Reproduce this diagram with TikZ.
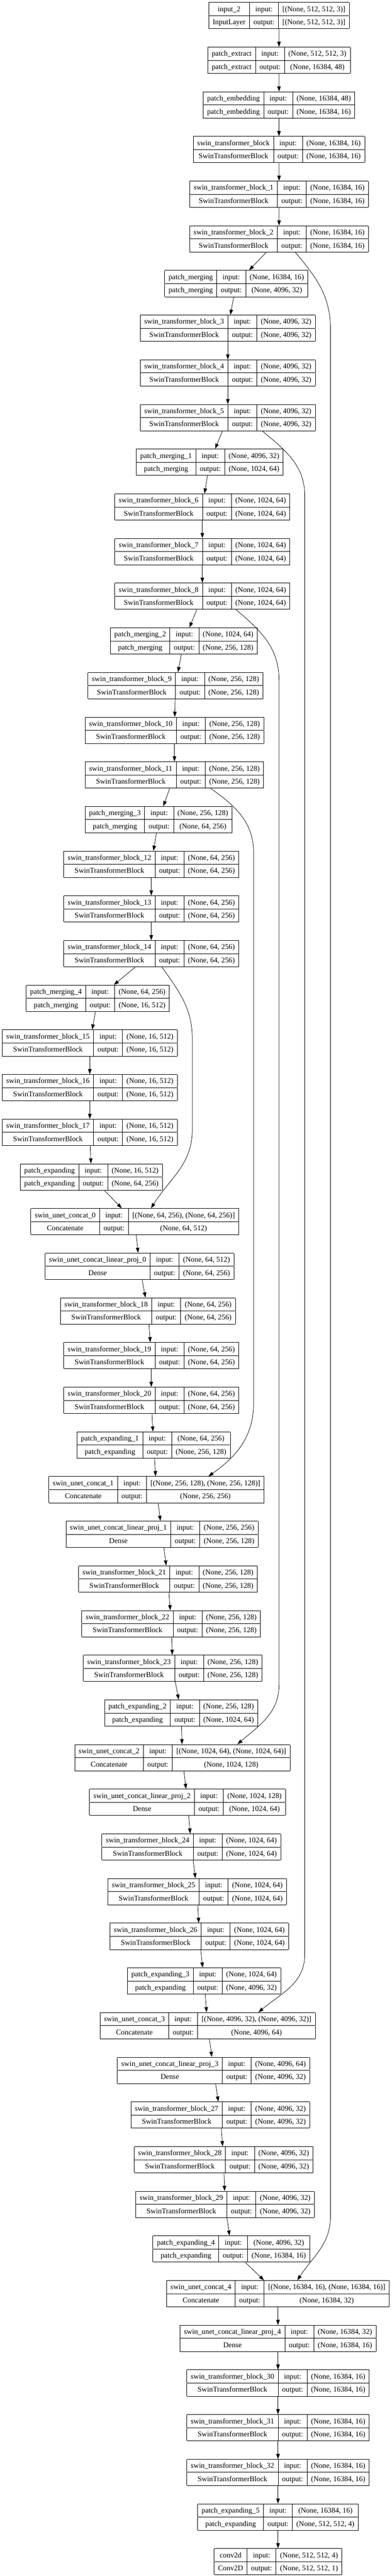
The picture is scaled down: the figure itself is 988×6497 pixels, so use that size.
\documentclass[tikz,border=0pt]{standalone}
\usepackage{fontspec}
\setmainfont{Liberation Serif}
\usetikzlibrary{arrows.meta}

\setlength{\tabcolsep}{10pt}
\setlength{\arrayrulewidth}{1.2pt}
\newcommand{\rowstrut}{\rule[-10pt]{0pt}{32pt}}
\newcommand{\lyr}[4]{%
  \begin{tabular}{|c|c|c|}\hline
  \rowstrut #1 & input: & #3\\\hline
  \rowstrut #2 & output: & #4\\\hline
  \end{tabular}}

\tikzset{
  layer/.style={anchor=north, inner sep=0pt, outer sep=0pt,
    font=\fontsize{18.67pt}{22pt}\selectfont},
  link/.style={-{Triangle[length=13pt,width=9pt]}, line width=1pt},
}

\begin{document}
\begin{tikzpicture}[x=1pt,y=1pt]
        \useasboundingbox (0,0) rectangle (988,-6497);

        % encoder
        \node[layer] (in2) at (703.8,-5.5) {\lyr{input\_2}{InputLayer}{[(None, 512, 512, 3)]}{[(None, 512, 512, 3)]}};
        \node[layer] (pextract) at (703.9,-118.2) {\lyr{patch\_extract}{patch\_extract}{(None, 512, 512, 3)}{(None, 16384, 48)}};
        \node[layer] (pembed) at (703.8,-230.8) {\lyr{patch\_embedding}{patch\_embedding}{(None, 16384, 48)}{(None, 16384, 16)}};
        \node[layer] (swin0) at (703.8,-343.5) {\lyr{swin\_transformer\_block}{SwinTransformerBlock}{(None, 16384, 16)}{(None, 16384, 16)}};
        \node[layer] (swin1) at (704.1,-456.1) {\lyr{swin\_transformer\_block\_1}{SwinTransformerBlock}{(None, 16384, 16)}{(None, 16384, 16)}};
        \node[layer] (swin2) at (704.0,-568.8) {\lyr{swin\_transformer\_block\_2}{SwinTransformerBlock}{(None, 16384, 16)}{(None, 16384, 16)}};

        \node[layer] (pmerge0) at (596.0,-681.5) {\lyr{patch\_merging}{patch\_merging}{(None, 16384, 16)}{(None, 4096, 32)}};
        \node[layer] (swin3) at (574.7,-794.1) {\lyr{swin\_transformer\_block\_3}{SwinTransformerBlock}{(None, 4096, 32)}{(None, 4096, 32)}};
        \node[layer] (swin4) at (574.7,-906.8) {\lyr{swin\_transformer\_block\_4}{SwinTransformerBlock}{(None, 4096, 32)}{(None, 4096, 32)}};
        \node[layer] (swin5) at (574.7,-1019.4) {\lyr{swin\_transformer\_block\_5}{SwinTransformerBlock}{(None, 4096, 32)}{(None, 4096, 32)}};

        \node[layer] (pmerge1) at (529.0,-1132.1) {\lyr{patch\_merging\_1}{patch\_merging}{(None, 4096, 32)}{(None, 1024, 64)}};
        \node[layer] (swin6) at (510.4,-1244.8) {\lyr{swin\_transformer\_block\_6}{SwinTransformerBlock}{(None, 1024, 64)}{(None, 1024, 64)}};
        \node[layer] (swin7) at (510.4,-1357.4) {\lyr{swin\_transformer\_block\_7}{SwinTransformerBlock}{(None, 1024, 64)}{(None, 1024, 64)}};
        \node[layer] (swin8) at (510.4,-1470.1) {\lyr{swin\_transformer\_block\_8}{SwinTransformerBlock}{(None, 1024, 64)}{(None, 1024, 64)}};

        \node[layer] (pmerge2) at (463.8,-1582.7) {\lyr{patch\_merging\_2}{patch\_merging}{(None, 1024, 64)}{(None, 256, 128)}};
        \node[layer] (swin9) at (442.6,-1695.4) {\lyr{swin\_transformer\_block\_9}{SwinTransformerBlock}{(None, 256, 128)}{(None, 256, 128)}};
        \node[layer] (swin10) at (440.1,-1808.1) {\lyr{swin\_transformer\_block\_10}{SwinTransformerBlock}{(None, 256, 128)}{(None, 256, 128)}};
        \node[layer] (swin11) at (440.1,-1920.7) {\lyr{swin\_transformer\_block\_11}{SwinTransformerBlock}{(None, 256, 128)}{(None, 256, 128)}};

        \node[layer] (pmerge3) at (400.1,-2033.4) {\lyr{patch\_merging\_3}{patch\_merging}{(None, 256, 128)}{(None, 64, 256)}};
        \node[layer] (swin12) at (381.6,-2146.0) {\lyr{swin\_transformer\_block\_12}{SwinTransformerBlock}{(None, 64, 256)}{(None, 64, 256)}};
        \node[layer] (swin13) at (381.6,-2258.7) {\lyr{swin\_transformer\_block\_13}{SwinTransformerBlock}{(None, 64, 256)}{(None, 64, 256)}};
        \node[layer] (swin14) at (381.6,-2371.4) {\lyr{swin\_transformer\_block\_14}{SwinTransformerBlock}{(None, 64, 256)}{(None, 64, 256)}};

        % bottleneck
        \node[layer] (pmerge4) at (246.7,-2484.0) {\lyr{patch\_merging\_4}{patch\_merging}{(None, 64, 256)}{(None, 16, 512)}};
        \node[layer] (swin15) at (226.5,-2596.7) {\lyr{swin\_transformer\_block\_15}{SwinTransformerBlock}{(None, 16, 512)}{(None, 16, 512)}};
        \node[layer] (swin16) at (226.5,-2709.3) {\lyr{swin\_transformer\_block\_16}{SwinTransformerBlock}{(None, 16, 512)}{(None, 16, 512)}};
        \node[layer] (swin17) at (226.5,-2822.0) {\lyr{swin\_transformer\_block\_17}{SwinTransformerBlock}{(None, 16, 512)}{(None, 16, 512)}};

        % decoder
        \node[layer] (pexp0) at (230.6,-2934.7) {\lyr{patch\_expanding}{patch\_expanding}{(None, 16, 512)}{(None, 64, 256)}};
        \node[layer] (cat0) at (340.0,-3047.3) {\lyr{swin\_unet\_concat\_0}{Concatenate}{[(None, 64, 256), (None, 64, 256)]}{(None, 64, 512)}};
        \node[layer] (proj0) at (352.0,-3160.0) {\lyr{swin\_unet\_concat\_linear\_proj\_0}{Dense}{(None, 64, 512)}{(None, 64, 256)}};
        \node[layer] (swin18) at (373.3,-3272.6) {\lyr{swin\_transformer\_block\_18}{SwinTransformerBlock}{(None, 64, 256)}{(None, 64, 256)}};
        \node[layer] (swin19) at (381.6,-3385.3) {\lyr{swin\_transformer\_block\_19}{SwinTransformerBlock}{(None, 64, 256)}{(None, 64, 256)}};
        \node[layer] (swin20) at (381.6,-3498.0) {\lyr{swin\_transformer\_block\_20}{SwinTransformerBlock}{(None, 64, 256)}{(None, 64, 256)}};

        \node[layer] (pexp1) at (387.5,-3610.6) {\lyr{patch\_expanding\_1}{patch\_expanding}{(None, 64, 256)}{(None, 256, 128)}};
        \node[layer] (cat1) at (394.8,-3723.3) {\lyr{swin\_unet\_concat\_1}{Concatenate}{[(None, 256, 128), (None, 256, 128)]}{(None, 256, 256)}};
        \node[layer] (proj1) at (408.9,-3835.9) {\lyr{swin\_unet\_concat\_linear\_proj\_1}{Dense}{(None, 256, 256)}{(None, 256, 128)}};
        \node[layer] (swin21) at (423.7,-3948.6) {\lyr{swin\_transformer\_block\_21}{SwinTransformerBlock}{(None, 256, 128)}{(None, 256, 128)}};
        \node[layer] (swin22) at (431.9,-4061.3) {\lyr{swin\_transformer\_block\_22}{SwinTransformerBlock}{(None, 256, 128)}{(None, 256, 128)}};
        \node[layer] (swin23) at (435.7,-4173.9) {\lyr{swin\_transformer\_block\_23}{SwinTransformerBlock}{(None, 256, 128)}{(None, 256, 128)}};

        \node[layer] (pexp2) at (457.1,-4286.6) {\lyr{patch\_expanding\_2}{patch\_expanding}{(None, 256, 128)}{(None, 1024, 64)}};
        \node[layer] (cat2) at (460.0,-4399.2) {\lyr{swin\_unet\_concat\_2}{Concatenate}{[(None, 1024, 64), (None, 1024, 64)]}{(None, 1024, 128)}};
        \node[layer] (proj2) at (473.2,-4511.9) {\lyr{swin\_unet\_concat\_linear\_proj\_2}{Dense}{(None, 1024, 128)}{(None, 1024, 64)}};
        \node[layer] (swin24) at (482.7,-4624.6) {\lyr{swin\_transformer\_block\_24}{SwinTransformerBlock}{(None, 1024, 64)}{(None, 1024, 64)}};
        \node[layer] (swin25) at (497.5,-4737.2) {\lyr{swin\_transformer\_block\_25}{SwinTransformerBlock}{(None, 1024, 64)}{(None, 1024, 64)}};
        \node[layer] (swin26) at (502.8,-4849.9) {\lyr{swin\_transformer\_block\_26}{SwinTransformerBlock}{(None, 1024, 64)}{(None, 1024, 64)}};

        \node[layer] (pexp3) at (514.8,-4962.5) {\lyr{patch\_expanding\_3}{patch\_expanding}{(None, 1024, 64)}{(None, 4096, 32)}};
        \node[layer] (cat3) at (523.9,-5075.2) {\lyr{swin\_unet\_concat\_3}{Concatenate}{[(None, 4096, 32), (None, 4096, 32)]}{(None, 4096, 64)}};
        \node[layer] (proj3) at (538.7,-5187.9) {\lyr{swin\_unet\_concat\_linear\_proj\_3}{Dense}{(None, 4096, 64)}{(None, 4096, 32)}};
        \node[layer] (swin27) at (555.8,-5300.5) {\lyr{swin\_transformer\_block\_27}{SwinTransformerBlock}{(None, 4096, 32)}{(None, 4096, 32)}};
        \node[layer] (swin28) at (564.0,-5413.2) {\lyr{swin\_transformer\_block\_28}{SwinTransformerBlock}{(None, 4096, 32)}{(None, 4096, 32)}};
        \node[layer] (swin29) at (567.7,-5525.8) {\lyr{swin\_transformer\_block\_29}{SwinTransformerBlock}{(None, 4096, 32)}{(None, 4096, 32)}};

        \node[layer] (pexp4) at (583.8,-5638.5) {\lyr{patch\_expanding\_4}{patch\_expanding}{(None, 4096, 32)}{(None, 16384, 16)}};
        \node[layer] (cat4) at (701.0,-5751.2) {\lyr{swin\_unet\_concat\_4}{Concatenate}{[(None, 16384, 16), (None, 16384, 16)]}{(None, 16384, 32)}};
        \node[layer] (proj4) at (701.3,-5863.8) {\lyr{swin\_unet\_concat\_linear\_proj\_4}{Dense}{(None, 16384, 32)}{(None, 16384, 16)}};
        \node[layer] (swin30) at (701.3,-5976.5) {\lyr{swin\_transformer\_block\_30}{SwinTransformerBlock}{(None, 16384, 16)}{(None, 16384, 16)}};
        \node[layer] (swin31) at (701.3,-6089.1) {\lyr{swin\_transformer\_block\_31}{SwinTransformerBlock}{(None, 16384, 16)}{(None, 16384, 16)}};
        \node[layer] (swin32) at (701.3,-6201.8) {\lyr{swin\_transformer\_block\_32}{SwinTransformerBlock}{(None, 16384, 16)}{(None, 16384, 16)}};
        \node[layer] (pexp5) at (701.3,-6314.5) {\lyr{patch\_expanding\_5}{patch\_expanding}{(None, 16384, 16)}{(None, 512, 512, 4)}};
        \node[layer] (conv) at (701.3,-6427.1) {\lyr{conv2d}{Conv2D}{(None, 512, 512, 4)}{(None, 512, 512, 1)}};

        % main chain
        \draw[link] (in2) -- (pextract);
        \draw[link] (pextract) -- (pembed);
        \draw[link] (pembed) -- (swin0);
        \draw[link] (swin0) -- (swin1);
        \draw[link] (swin1) -- (swin2);
        \draw[link] (swin2) -- (pmerge0);
        \draw[link] (pmerge0) -- (swin3);
        \draw[link] (swin3) -- (swin4);
        \draw[link] (swin4) -- (swin5);
        \draw[link] (swin5) -- (pmerge1);
        \draw[link] (pmerge1) -- (swin6);
        \draw[link] (swin6) -- (swin7);
        \draw[link] (swin7) -- (swin8);
        \draw[link] (swin8) -- (pmerge2);
        \draw[link] (pmerge2) -- (swin9);
        \draw[link] (swin9) -- (swin10);
        \draw[link] (swin10) -- (swin11);
        \draw[link] (swin11) -- (pmerge3);
        \draw[link] (pmerge3) -- (swin12);
        \draw[link] (swin12) -- (swin13);
        \draw[link] (swin13) -- (swin14);
        \draw[link] (swin14) -- (pmerge4);
        \draw[link] (pmerge4) -- (swin15);
        \draw[link] (swin15) -- (swin16);
        \draw[link] (swin16) -- (swin17);
        \draw[link] (swin17) -- (pexp0);
        \draw[link] (pexp0) -- (cat0);
        \draw[link] (cat0) -- (proj0);
        \draw[link] (proj0) -- (swin18);
        \draw[link] (swin18) -- (swin19);
        \draw[link] (swin19) -- (swin20);
        \draw[link] (swin20) -- (pexp1);
        \draw[link] (pexp1) -- (cat1);
        \draw[link] (cat1) -- (proj1);
        \draw[link] (proj1) -- (swin21);
        \draw[link] (swin21) -- (swin22);
        \draw[link] (swin22) -- (swin23);
        \draw[link] (swin23) -- (pexp2);
        \draw[link] (pexp2) -- (cat2);
        \draw[link] (cat2) -- (proj2);
        \draw[link] (proj2) -- (swin24);
        \draw[link] (swin24) -- (swin25);
        \draw[link] (swin25) -- (swin26);
        \draw[link] (swin26) -- (pexp3);
        \draw[link] (pexp3) -- (cat3);
        \draw[link] (cat3) -- (proj3);
        \draw[link] (proj3) -- (swin27);
        \draw[link] (swin27) -- (swin28);
        \draw[link] (swin28) -- (swin29);
        \draw[link] (swin29) -- (pexp4);
        \draw[link] (pexp4) -- (cat4);
        \draw[link] (cat4) -- (proj4);
        \draw[link] (proj4) -- (swin30);
        \draw[link] (swin30) -- (swin31);
        \draw[link] (swin31) -- (swin32);
        \draw[link] (swin32) -- (pexp5);
        \draw[link] (pexp5) -- (conv);

        % skip connections
        \coordinate (skipa1) at (833.6,-830);
        \coordinate (skipa2) at (833.6,-5590);
        \coordinate (skipb1) at (768.7,-1250);
        \coordinate (skipb2) at (768.7,-4930);
        \coordinate (skipc1) at (703.8,-1715);
        \coordinate (skipc2) at (703.8,-4250);
        \coordinate (skipd1) at (639.6,-2150);
        \coordinate (skipd2) at (639.6,-3540);
        \coordinate (skipe1) at (485.0,-2620);
        \coordinate (skipe2) at (485.0,-2850);

        \draw[link] ([xshift=41pt]swin2.south) to[out=-50, in=90] (skipa1) -- (skipa2) to[out=-90, in=57] ([xshift=49pt]cat4.north);
        \draw[link] ([xshift=87pt]swin5.south) to[out=-40, in=90] (skipb1) -- (skipb2) to[out=-90, in=40] ([xshift=128pt]cat3.north);
        \draw[link] ([xshift=85pt]swin8.south) to[out=-40, in=90] (skipc1) -- (skipc2) to[out=-90, in=41] ([xshift=139pt]cat2.north);
        \draw[link] ([xshift=91pt]swin11.south) to[out=-35, in=90] (skipd1) -- (skipd2) to[out=-90, in=35] ([xshift=131pt]cat1.north);
        \draw[link] ([xshift=27pt]swin14.south) to[out=-55, in=90] (skipe1) -- (skipe2) to[out=-90, in=58] ([xshift=41pt]cat0.north);
    \end{tikzpicture}
\end{document}
